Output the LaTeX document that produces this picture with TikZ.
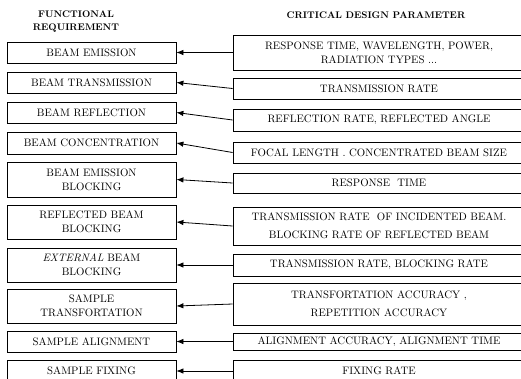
\documentclass[tikz,border=0pt]{standalone}
\usepackage{tikz}
\usetikzlibrary{arrows.meta,positioning}

\begin{document}
\begin{tikzpicture}[x=1pt,y=-1pt,
  req/.style={draw,line width=0.8pt,inner sep=0pt,minimum width=169pt,
    align=center,font=\fontsize{10.8}{14}\selectfont},
  par/.style={draw,line width=0.8pt,inner sep=0pt,minimum width=292pt,
    align=center,font=\fontsize{10.8}{14}\selectfont},
  head/.style={font=\fontsize{9.6}{13}\selectfont\bfseries,align=center},
  link/.style={line width=0.8pt,-{Latex[length=7pt,width=5.5pt]}}
]
\useasboundingbox (0,0) rectangle (521,378);

% column heads
\node[head] (hreq) at (76,22) {FUNCTIONAL\\REQUIREMENT};
\node[head] (hpar) at (376,15) {CRITICAL DESIGN PARAMETER};

% functional requirements
\node[req,minimum height=21pt] (f1) at (91.5,52.5) {BEAM EMISSION};
\node[req,minimum height=21pt] (f2) at (91.5,82.5) {BEAM TRANSMISSION};
\node[req,minimum height=21pt] (f3) at (91.5,112.5) {BEAM REFLECTION};
\node[req,minimum height=22pt] (f4) at (91.5,143) {BEAM CONCENTRATION};
\node[req,minimum height=35pt] (f5) at (91.5,179.5) {BEAM EMISSION\\BLOCKING};
\node[req,minimum height=34pt] (f6) at (91.5,222) {REFLECTED BEAM\\BLOCKING};
\node[req,minimum height=34pt] (f7) at (91.5,265) {\textit{EXTERNAL} BEAM\\BLOCKING};
\node[req,minimum height=34pt] (f8) at (91.5,306) {SAMPLE\\TRANSFORTATION};
\node[req,minimum height=21pt] (f9) at (91.5,341.5) {SAMPLE ALIGNMENT};
\node[req,minimum height=22pt] (f10) at (91.5,371) {SAMPLE FIXING};

% design parameters
\node[par,minimum height=35pt] (p1) at (379,52.5) {RESPONSE TIME, WAVELENGTH, POWER,\\RADIATION TYPES ...};
\node[par,minimum height=21pt] (p2) at (379,88.5) {TRANSMISSION RATE};
\node[par,minimum height=22pt] (p3) at (379,120) {REFLECTION RATE, REFLECTED ANGLE};
\node[par,minimum height=21pt] (p4) at (379,152.5) {FOCAL LENGTH . CONCENTRATED BEAM SIZE};
\node[par,minimum height=20pt] (p5) at (379,183) {RESPONSE\ \ TIME};
\node[par,minimum height=38pt] (p6) at (379,226) {TRANSMISSION RATE\ \ OF INCIDENTED BEAM.\\[4pt]BLOCKING RATE OF REFLECTED BEAM};
\node[par,minimum height=22pt] (p7) at (379,265) {TRANSMISSION RATE, BLOCKING RATE};
\node[par,minimum height=42pt] (p8) at (379,304) {TRANSFORTATION ACCURACY ,\\[4pt]REPETITION ACCURACY};
\node[par,minimum height=17pt] (p9) at (379,341.5) {ALIGNMENT ACCURACY, ALIGNMENT TIME};
\node[par,minimum height=22pt] (p10) at (379,371) {FIXING RATE};

\foreach \i in {1,...,10}
  \draw[link] (p\i.west) -- (f\i.east);
\end{tikzpicture}
\end{document}
